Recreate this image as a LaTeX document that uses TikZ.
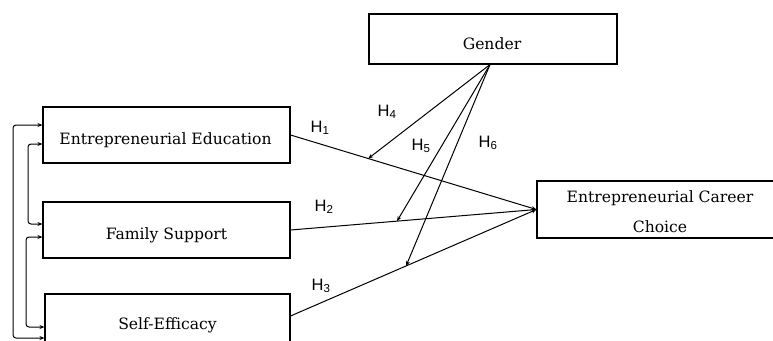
\documentclass[tikz,border=0pt]{standalone}
\usepackage{fontspec}
\setmainfont{DejaVu Serif}
\setsansfont{Liberation Sans}
\usetikzlibrary{arrows.meta,calc}
\begin{document}
\begin{tikzpicture}[x=1pt,y=-1pt,
  box/.style={draw, line width=1.1pt, rectangle, inner sep=0pt},
  txt/.style={font=\fontsize{15.6}{30}\selectfont, align=center, inner sep=0pt},
  conn/.style={line width=1pt, -{Stealth[length=5pt,width=4pt]}},
  biconn/.style={line width=1pt, {Stealth[length=5pt,width=4pt]}-{Stealth[length=5pt,width=4pt]}, rounded corners=3pt},
  hlab/.style={font=\sffamily\fontsize{16.5}{18}\selectfont, inner sep=0pt}]
\useasboundingbox (0,0) rectangle (773,340);
\clip (0,0) rectangle (773,340);
% boxes
\node[box, minimum width=248, minimum height=50] (gender) at (493,39) {};
\node[box, minimum width=247, minimum height=56] (ee) at (166.5,135) {};
\node[box, minimum width=247, minimum height=56] (fs) at (166.5,230) {};
\node[box, minimum width=245, minimum height=56] (se) at (167.5,322) {};
\node[box, minimum width=246, minimum height=57] (cc) at (660,209.5) {};
% texts
\node[txt] (tg) at (492,44) {Gender};
\node[txt] (tee) at (165.5,140) {Entrepreneurial Education};
\node[txt] (tfs) at (166.5,235) {Family Support};
\node[txt] (tse) at (167.5,325) {Self-Efficacy};
\node[txt] (tcc) at (660,212) {Entrepreneurial Career\\Choice};
% main paths
\coordinate (seout) at (290.5,316);
\coordinate (g) at ($(gender.south)+(-3,0)$);
\draw[conn] (ee.east) -- (cc.west);
\draw[conn] (fs.east) -- (cc.west);
\draw[conn] (seout) -- (cc.west);
\coordinate (m4) at ($(ee.east)!0.316!(cc.west)$);
\coordinate (m5) at ($(fs.east)!0.433!(cc.west)$);
\coordinate (m6) at ($(seout)!0.47!(cc.west)$);
\draw[conn] (g) -- (m4);
\draw[conn] (g) -- (m5);
\draw[conn] (g) -- (m6);
% hypothesis labels
\node[hlab] (h1) at (320,128) {H\textsubscript{1}};
\node[hlab] (h2) at (324,207) {H\textsubscript{2}};
\node[hlab] (h3) at (321,286) {H\textsubscript{3}};
\node[hlab] (h4) at (387,112) {H\textsubscript{4}};
\node[hlab] (h5) at (421,146) {H\textsubscript{5}};
\node[hlab] (h6) at (488,143) {H\textsubscript{6}};
% correlations on the left
\coordinate (xo) at (13,0);
\coordinate (xm) at (28,0);
\coordinate (xi) at (26,0);
\coordinate (a1) at ($(ee.west)+(0,-10)$);
\coordinate (b1) at ($(se.west)+(0,16)$);
\coordinate (a2) at ($(ee.west)+(0,9)$);
\coordinate (b2) at ($(fs.west)+(0,-6)$);
\coordinate (a3) at ($(fs.west)+(0,7)$);
\coordinate (b3) at ($(se.west)+(0,5)$);
\draw[biconn] (a1) -- (a1 -| xo) |- (b1);
\draw[biconn] (a2) -- (a2 -| xm) |- (b2);
\draw[biconn] (a3) -- (a3 -| xi) |- (b3);
\end{tikzpicture}
\end{document}
